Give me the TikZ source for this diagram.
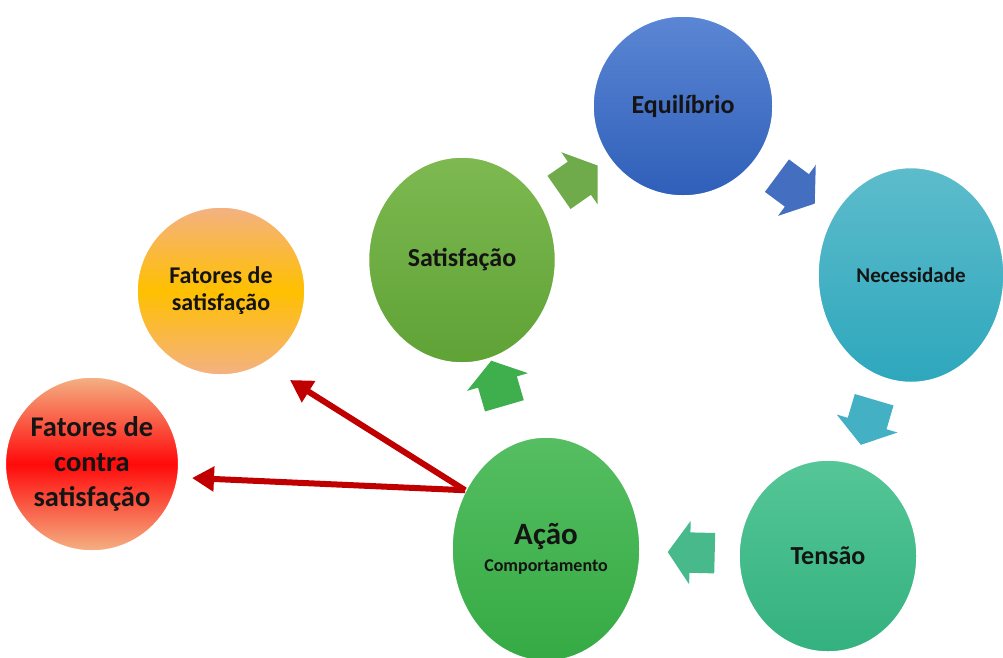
\documentclass[tikz,border=0pt]{standalone}
\usepackage{fontspec}
\setmainfont{Carlito}
\usetikzlibrary{arrows.meta,positioning,shapes.geometric,shapes.arrows,calc}
\definecolor{equa}{HTML}{5B86D4}
\definecolor{equb}{HTML}{2F5FB9}
\definecolor{neca}{HTML}{5DBCCB}
\definecolor{necb}{HTML}{2EA7BD}
\definecolor{tena}{HTML}{55C697}
\definecolor{tenb}{HTML}{33B17E}
\definecolor{acaa}{HTML}{55BE62}
\definecolor{acab}{HTML}{35AA43}
\definecolor{sata}{HTML}{7DB950}
\definecolor{satb}{HTML}{5FA236}
\definecolor{peach}{HTML}{F4B183}
\definecolor{gold}{HTML}{FFC000}
\definecolor{brightred}{HTML}{FF0A0A}
\definecolor{arrowred}{HTML}{C00000}
\definecolor{darktext}{HTML}{141414}
\tikzset{
  cyclenode/.style={ellipse,draw=white,line width=1.5pt,inner sep=0pt,align=center,text=darktext,font=\bfseries\fontsize{26}{30}\selectfont},
  factornode/.style={ellipse,draw=white,line width=1.5pt,inner sep=0pt,align=center,text=darktext,top color=peach,bottom color=peach},
  blockarrow/.style={single arrow,draw=none,inner xsep=0pt,inner ysep=20pt,minimum height=47pt,single arrow head extend=11.5pt,single arrow tip angle=110,sloped,allow upside down},
  redarrow/.style={-{Triangle[length=22pt,width=24pt]},line width=6pt,draw=arrowred}
}
\begin{document}
\begin{tikzpicture}[x=1pt,y=-1pt]
  \useasboundingbox (0,0) rectangle (1003,657);
  % Cycle
  \node[cyclenode,minimum width=180pt,minimum height=180pt,top color=equa,bottom color=equb] (equ) at (683,106) {Equilíbrio};
  \node[cyclenode,minimum width=186pt,minimum height=215pt,top color=neca,bottom color=necb,font=\bfseries\fontsize{21}{25}\selectfont] (nec) at (911,275) {Necessidade};
  \node[cyclenode,minimum width=178pt,minimum height=192pt,top color=tena,bottom color=tenb] (ten) at (828,556) {Tensão};
  \node[cyclenode,minimum width=188pt,minimum height=224pt,top color=acaa,bottom color=acab,font=\bfseries\fontsize{18}{27}\selectfont] (acao) at (546,549) {{\fontsize{31}{31}\selectfont Ação}\\Comportamento};
  \node[cyclenode,minimum width=187pt,minimum height=206pt,top color=sata,bottom color=satb] (sat) at (462,260) {Satisfação};

  \path (sat.center) -- (equ.center) node[blockarrow,midway,fill=satb!90!white] (a1) {};
  \path (equ.center) -- (nec.center) node[blockarrow,pos=0.47,fill=equb!90!white] (a2) {};
  \path (nec.center) -- (ten.center) node[blockarrow,midway,fill=necb!90!white] (a3) {};
  \path (ten.center) -- (acao.center) node[blockarrow,pos=0.46,fill=tenb!90!white] (a4) {};
  \path (acao.center) -- (sat.center) node[blockarrow,pos=0.55,fill=acab!95!white] (a5) {};

  % Factors
  \node[factornode,minimum width=168pt,minimum height=168pt,middle color=gold,font=\bfseries\fontsize{24}{27}\selectfont] (fsat) at (221,291) {Fatores de\\satisfação};
  \node[factornode,minimum width=168pt,minimum height=174pt,middle color=brightred,font=\bfseries\fontsize{28.5}{35}\selectfont] (fcon) at (92,464) {Fatores de\\contra\\satisfação};

  \coordinate (tipsat) at (290,380);
  \coordinate (tipcon) at (192,478);
  \draw[redarrow] (acao.144) -- (tipsat);
  \draw[redarrow] (acao.144) -- (tipcon);
\end{tikzpicture}
\end{document}
